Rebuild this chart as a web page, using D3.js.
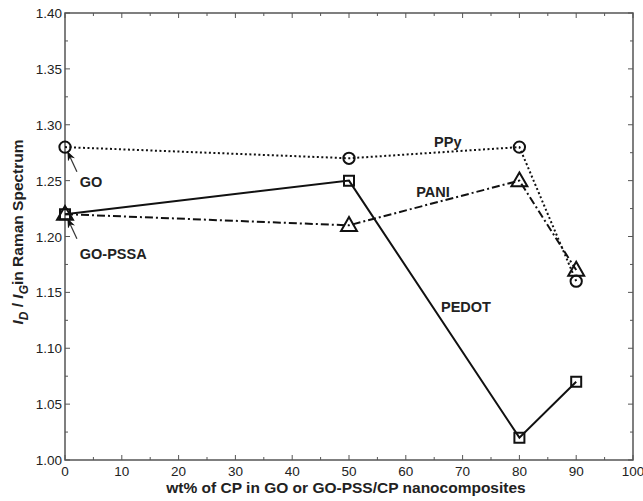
<!DOCTYPE html>
<html>
<head>
<meta charset="utf-8">
<script src="https://cdn.jsdelivr.net/npm/d3@7"></script>
<style>
  body { margin: 0; background: #fff; }
  text { font-family: "Liberation Sans", Arial, sans-serif; }
</style>
</head>
<body>
<div id="chart"></div>
<script>
// data
const wt = [0, 50, 80, 90];
const ppy = [1.28, 1.27, 1.28, 1.16];
const pani = [1.22, 1.21, 1.25, 1.17];
const pedot = [1.22, 1.25, 1.02, 1.07];

const xTicks = [0, 10, 20, 30, 40, 50, 60, 70, 80, 90, 100];
const yTicks = [1.00, 1.05, 1.10, 1.15, 1.20, 1.25, 1.30, 1.35, 1.40];

const width = 643, height = 501;
const margin = { left: 65, right: 10, top: 13, bottom: 41 };

const svg = d3.select("#chart").append("svg")
    .attr("width", width)
    .attr("height", height);

const x = d3.scaleLinear().domain([0, 100]).range([margin.left, width - margin.right]);
const y = d3.scaleLinear().domain([1.0, 1.4]).range([height - margin.bottom, margin.top]);

const axisColor = "#555";

// frame
svg.append("rect")
    .attr("x", x(0)).attr("y", y(1.4))
    .attr("width", x(100) - x(0)).attr("height", y(1.0) - y(1.4))
    .attr("fill", "none").attr("stroke", axisColor).attr("stroke-width", 1.5);

// inward ticks on all four sides
const xMinor = d3.range(5, 100, 10);
const yMinor = d3.range(1.025, 1.4, 0.05);

function ticks(g, vals, len, horiz) {
    vals.forEach(v => {
        if (horiz) {
            g.append("line").attr("x1", x(v)).attr("x2", x(v))
                .attr("y1", y(1.0)).attr("y2", y(1.0) - len);
            g.append("line").attr("x1", x(v)).attr("x2", x(v))
                .attr("y1", y(1.4)).attr("y2", y(1.4) + len);
        } else {
            g.append("line").attr("y1", y(v)).attr("y2", y(v))
                .attr("x1", x(0)).attr("x2", x(0) + len);
            g.append("line").attr("y1", y(v)).attr("y2", y(v))
                .attr("x1", x(100)).attr("x2", x(100) - len);
        }
    });
}
const tg = svg.append("g").attr("stroke", axisColor).attr("stroke-width", 1);
ticks(tg, xTicks, 5, true);
ticks(tg, xMinor, 3, true);
ticks(tg, yTicks, 5, false);
ticks(tg, yMinor, 3, false);

// tick labels
svg.append("g").selectAll("text").data(xTicks).join("text")
    .attr("x", d => x(d)).attr("y", y(1.0) + 16)
    .attr("text-anchor", "middle").attr("font-size", 13.5).attr("fill", "#222")
    .text(d => d);
svg.append("g").selectAll("text").data(yTicks).join("text")
    .attr("x", x(0) - 3).attr("y", d => y(d) + 5)
    .attr("text-anchor", "end").attr("font-size", 13.5).attr("fill", "#222")
    .text(d => d.toFixed(2));

// axis titles
svg.append("text")
    .attr("x", 346).attr("y", height - 8)
    .attr("text-anchor", "middle").attr("font-size", 15.5).attr("font-weight", "bold")
    .attr("fill", "#222")
    .text("wt% of CP in GO or GO-PSS/CP nanocomposites");

const yl = svg.append("text")
    .attr("transform", `translate(23,232) rotate(-90)`)
    .attr("text-anchor", "middle").attr("font-size", 15.5).attr("font-weight", "bold")
    .attr("fill", "#222");
yl.append("tspan").attr("font-style", "italic").text("I");
yl.append("tspan").attr("font-style", "italic").attr("font-size", 12).attr("dy", 5).text("D");
yl.append("tspan").attr("dy", -5).text(" / ");
yl.append("tspan").attr("font-style", "italic").text("I");
yl.append("tspan").attr("font-style", "italic").attr("font-size", 12).attr("dy", 5).text("G");
yl.append("tspan").attr("dy", -5).text("in Raman Spectrum");

// series
const series = [
    { name: "PPy", vals: ppy, dash: "2,2.5", marker: "circle" },
    { name: "PANI", vals: pani, dash: "8,3,2,3", marker: "triangle" },
    { name: "PEDOT", vals: pedot, dash: null, marker: "square" }
];

const line = d3.line().x(d => x(d[0])).y(d => y(d[1]));

series.forEach(s => {
    const pts = wt.map((w, i) => [w, s.vals[i]]);
    svg.append("path")
        .datum(pts)
        .attr("d", line)
        .attr("fill", "none")
        .attr("stroke", "#111")
        .attr("stroke-width", 2)
        .attr("stroke-dasharray", s.dash);

    const sym = s.marker === "circle" ? d3.symbolCircle
        : s.marker === "triangle" ? d3.symbolTriangle : d3.symbolSquare;
    const size = s.marker === "circle" ? 100 : s.marker === "triangle" ? 110 : 100;
    svg.append("g").selectAll("path").data(pts).join("path")
        .attr("transform", d => `translate(${x(d[0])},${y(d[1]) + (s.marker === "triangle" ? 1 : 0)})`)
        .attr("d", d3.symbol().type(sym).size(size))
        .attr("fill", "none")
        .attr("stroke", "#111")
        .attr("stroke-width", 2);
});

// series labels
const labels = [
    { t: "PPy", wx: 67.4, wy: 1.2800 },
    { t: "PANI", wx: 64.8, wy: 1.2353 },
    { t: "PEDOT", wx: 70.6, wy: 1.1324 },
    { t: "GO", wx: 2.6, wy: 1.2443, anchor: "start" },
    { t: "GO-PSSA", wx: 2.6, wy: 1.1799, anchor: "start" }
];
svg.append("g").selectAll("text").data(labels).join("text")
    .attr("x", d => x(d.wx)).attr("y", d => y(d.wy))
    .attr("text-anchor", d => d.anchor || "middle")
    .attr("font-size", 14.5).attr("font-weight", "bold").attr("fill", "#222")
    .text(d => d.t);

// arrows to GO and GO-PSSA points
svg.append("defs").append("marker")
    .attr("id", "head").attr("viewBox", "0 0 10 10")
    .attr("refX", 9).attr("refY", 5)
    .attr("markerWidth", 8).attr("markerHeight", 8)
    .attr("orient", "auto")
    .append("path").attr("d", "M0,1 L10,5 L0,9 L3,5 Z").attr("fill", "#111");

const arrows = [
    { from: [2.1, 1.2580], to: [0.5, 1.2755] },
    { from: [2.1, 1.1980], to: [0.5, 1.2155] }
];
svg.append("g").selectAll("line").data(arrows).join("line")
    .attr("x1", d => x(d.from[0])).attr("y1", d => y(d.from[1]))
    .attr("x2", d => x(d.to[0])).attr("y2", d => y(d.to[1]))
    .attr("stroke", "#333").attr("stroke-width", 1.2)
    .attr("marker-end", "url(#head)");
</script>
</body>
</html>
